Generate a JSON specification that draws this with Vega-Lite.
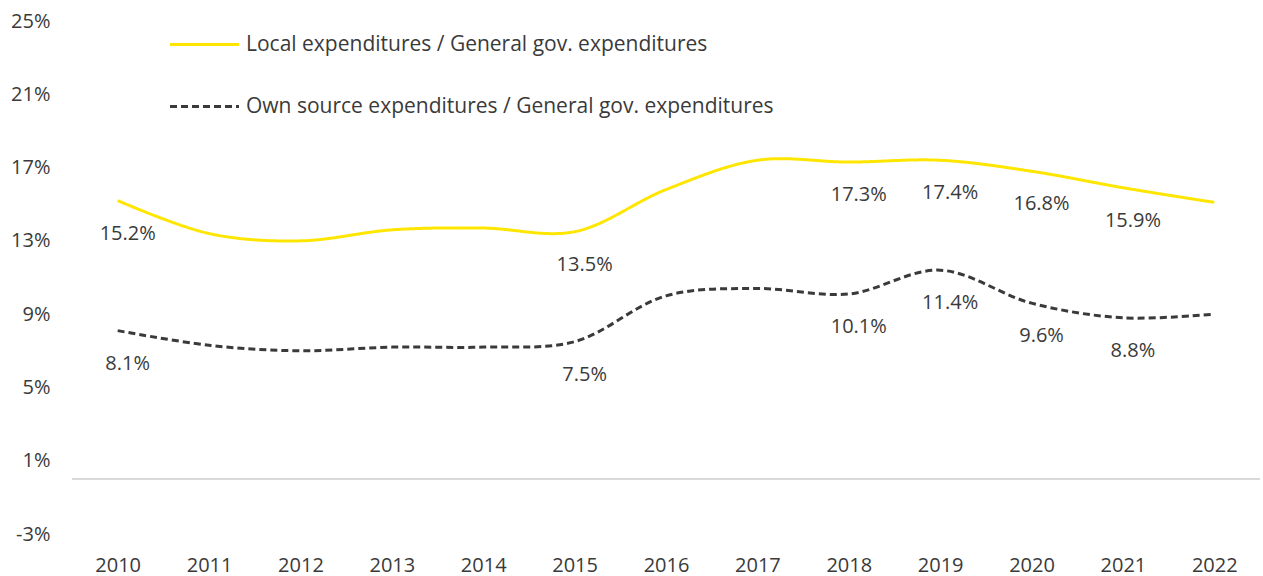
{
  "$schema": "https://vega.github.io/schema/vega-lite/v6.json",
  "width": 1188,
  "height": 513,
  "autosize": {"type": "none"},
  "padding": {"left": 72, "top": 21, "right": 3, "bottom": 42},
  "background": "white",
  "config": {
    "view": {"stroke": null},
    "font": "Open Sans",
    "text": {"font": "Open Sans"}
  },
  "data": {
    "values": [
      {"year": "2010", "series": "Local expenditures / General gov. expenditures", "value": 0.152, "labeled": true},
      {"year": "2011", "series": "Local expenditures / General gov. expenditures", "value": 0.134, "labeled": false},
      {"year": "2012", "series": "Local expenditures / General gov. expenditures", "value": 0.130, "labeled": false},
      {"year": "2013", "series": "Local expenditures / General gov. expenditures", "value": 0.136, "labeled": false},
      {"year": "2014", "series": "Local expenditures / General gov. expenditures", "value": 0.137, "labeled": false},
      {"year": "2015", "series": "Local expenditures / General gov. expenditures", "value": 0.135, "labeled": true},
      {"year": "2016", "series": "Local expenditures / General gov. expenditures", "value": 0.158, "labeled": false},
      {"year": "2017", "series": "Local expenditures / General gov. expenditures", "value": 0.174, "labeled": false},
      {"year": "2018", "series": "Local expenditures / General gov. expenditures", "value": 0.173, "labeled": true},
      {"year": "2019", "series": "Local expenditures / General gov. expenditures", "value": 0.174, "labeled": true},
      {"year": "2020", "series": "Local expenditures / General gov. expenditures", "value": 0.168, "labeled": true},
      {"year": "2021", "series": "Local expenditures / General gov. expenditures", "value": 0.159, "labeled": true},
      {"year": "2022", "series": "Local expenditures / General gov. expenditures", "value": 0.151, "labeled": false},
      {"year": "2010", "series": "Own source expenditures / General gov. expenditures", "value": 0.081, "labeled": true},
      {"year": "2011", "series": "Own source expenditures / General gov. expenditures", "value": 0.073, "labeled": false},
      {"year": "2012", "series": "Own source expenditures / General gov. expenditures", "value": 0.070, "labeled": false},
      {"year": "2013", "series": "Own source expenditures / General gov. expenditures", "value": 0.072, "labeled": false},
      {"year": "2014", "series": "Own source expenditures / General gov. expenditures", "value": 0.072, "labeled": false},
      {"year": "2015", "series": "Own source expenditures / General gov. expenditures", "value": 0.075, "labeled": true},
      {"year": "2016", "series": "Own source expenditures / General gov. expenditures", "value": 0.100, "labeled": false},
      {"year": "2017", "series": "Own source expenditures / General gov. expenditures", "value": 0.104, "labeled": false},
      {"year": "2018", "series": "Own source expenditures / General gov. expenditures", "value": 0.101, "labeled": true},
      {"year": "2019", "series": "Own source expenditures / General gov. expenditures", "value": 0.114, "labeled": true},
      {"year": "2020", "series": "Own source expenditures / General gov. expenditures", "value": 0.096, "labeled": true},
      {"year": "2021", "series": "Own source expenditures / General gov. expenditures", "value": 0.088, "labeled": true},
      {"year": "2022", "series": "Own source expenditures / General gov. expenditures", "value": 0.090, "labeled": false}
    ]
  },
  "encoding": {
    "x": {
      "field": "year",
      "type": "ordinal",
      "scale": {"type": "point", "padding": 0.5},
      "axis": {
        "title": null,
        "domain": false,
        "ticks": false,
        "labelAngle": 0,
        "labelFontSize": 20,
        "labelColor": "#3a3a3a",
        "labelPadding": 21
      }
    },
    "y": {
      "field": "value",
      "type": "quantitative",
      "scale": {"domain": [-0.03, 0.25], "nice": false, "zero": false},
      "axis": {
        "title": null,
        "domain": false,
        "ticks": false,
        "grid": false,
        "values": [-0.03, 0.01, 0.05, 0.09, 0.13, 0.17, 0.21, 0.25],
        "format": ".0%",
        "labelExpr": "replace(datum.label, '\u2212', '-')",
        "labelFontSize": 20,
        "labelColor": "#3a3a3a",
        "labelPadding": 22
      }
    }
  },
  "layer": [
    {
      "mark": {"type": "rule", "color": "#d9d9d9", "strokeWidth": 2},
      "encoding": {"y": {"datum": 0}, "x": null}
    },
    {
      "mark": {"type": "line", "interpolate": "catmull-rom", "strokeWidth": 3},
      "encoding": {
        "color": {
          "field": "series",
          "type": "nominal",
          "scale": {
            "domain": ["Local expenditures / General gov. expenditures", "Own source expenditures / General gov. expenditures"],
            "range": ["#FFE600", "#3a3a3a"]
          },
          "legend": {
            "title": null,
            "orient": "none",
            "legendX": 101,
            "legendY": -8,
            "direction": "vertical",
            "symbolType": "M-1.15,0H1.15",
            "symbolSize": 3600,
            "symbolStrokeWidth": 3,
            "labelFontSize": 21,
            "labelColor": "#3a3a3a",
            "labelOffset": 10,
            "labelLimit": 800,
            "rowPadding": 20,
            "padding": 0
          }
        },
        "strokeDash": {
          "field": "series",
          "type": "nominal",
          "scale": {
            "domain": ["Local expenditures / General gov. expenditures", "Own source expenditures / General gov. expenditures"],
            "range": [[1, 0], [7, 4]]
          },
          "legend": null
        }
      }
    },
    {
      "transform": [{"filter": "datum.labeled"}],
      "mark": {"type": "text", "fontSize": 20, "color": "#3a3a3a", "dy": 33, "dx": 10, "baseline": "middle"},
      "encoding": {
        "text": {"field": "value", "type": "quantitative", "format": ".1%"}
      }
    }
  ]
}
